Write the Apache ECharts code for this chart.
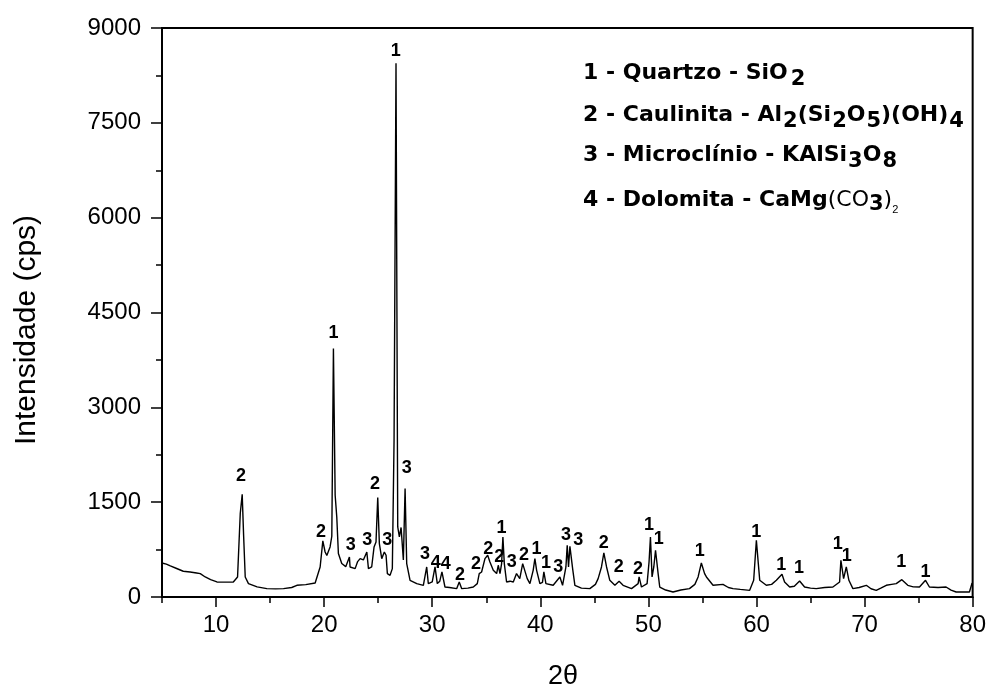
<!DOCTYPE html>
<html lang="pt">
<head>
    <meta charset="UTF-8">
    <title>Difratograma</title>
    <script src="https://cdn.jsdelivr.net/npm/echarts/dist/echarts.min.js"></script>
    <style>
        body { margin: 0; padding: 0; background: #fff; }
        #chart { width: 989px; height: 689px; }
    </style>
</head>
<body>
<div id="chart"></div>
<script>
    var twoTheta = [
        5.0, 5.4, 5.77, 6.3, 6.97, 7.6, 8.2, 8.54, 9.0, 9.5, 10.08, 10.8, 11.6, 11.99, 12.24, 12.42, 12.55, 12.7, 13.0, 13.8,
        14.7, 15.5, 16.24, 17.0, 17.48, 18.3, 19.17, 19.63, 19.88, 20.09, 20.25, 20.55, 20.71, 20.86, 21.02, 21.17, 21.32, 21.63, 22.0, 22.34,
        22.4, 22.87, 23.1, 23.33, 23.63, 23.95, 24.1, 24.4, 24.62, 24.8, 24.96, 25.11, 25.33, 25.57, 25.73, 25.85, 26.1, 26.31, 26.47, 26.65,
        26.81, 26.96, 27.12, 27.33, 27.49, 27.64, 27.95, 28.57, 29.18, 29.49, 29.64, 30.0, 30.26, 30.47, 30.7, 30.9, 31.18, 31.6, 32.26, 32.5,
        32.73, 33.3, 33.8, 34.17, 34.35, 34.57, 34.88, 35.13, 35.34, 35.65, 35.96, 36.11, 36.27, 36.42, 36.54, 36.67, 36.88, 37.2, 37.5, 37.8,
        38.1, 38.37, 38.5, 38.79, 39.04, 39.34, 39.5, 39.66, 39.96, 40.2, 40.33, 40.52, 41.19, 41.81, 42.06, 42.37, 42.49, 42.61, 42.74, 42.83,
        42.99, 43.2, 43.8, 44.58, 45.1, 45.35, 45.66, 45.88, 46.13, 46.43, 46.9, 47.29, 47.66, 48.44, 49.05, 49.14, 49.36, 49.88, 50.06, 50.19,
        50.34, 50.5, 50.66, 50.75, 50.9, 51.05, 51.6, 52.28, 53.0, 53.8, 54.3, 54.6, 54.9, 55.2, 55.37, 55.98, 56.9, 57.4, 57.83, 58.5,
        59.37, 59.74, 59.99, 60.17, 60.3, 60.91, 61.4, 61.84, 62.36, 62.6, 63.07, 63.5, 63.99, 64.45, 65.0, 65.53, 66.3, 67.07, 67.69, 67.81,
        68.06, 68.31, 68.55, 68.92, 69.5, 70.16, 70.6, 71.08, 71.5, 72.01, 72.5, 72.93, 73.45, 74.0, 74.5, 75.08, 75.64, 76.0, 76.8, 77.54,
        78.0, 78.47, 79.2, 79.7, 79.95
    ];
    var intensidade = [
        538, 520, 491, 455, 407, 395, 380, 370, 317, 275, 238, 235, 238, 317, 1320, 1626, 977, 317, 212, 160,
        133, 128, 133, 150, 185, 195, 222, 475, 887, 712, 658, 792, 961, 3930, 1610, 1266, 687, 529, 480, 633,
        475, 449, 560, 607, 586, 712, 449, 475, 792, 871, 1573, 845, 607, 712, 660, 370, 343, 449, 2480, 8443,
        1108, 950, 1100, 586, 1716, 529, 264, 212, 185, 475, 212, 240, 475, 212, 250, 396, 158, 150, 132, 237,
        132, 140, 158, 211, 370, 396, 607, 660, 554, 422, 370, 502, 370, 528, 950, 528, 237, 250, 237, 370,
        290, 528, 554, 290, 211, 422, 607, 422, 211, 230, 396, 211, 185, 317, 185, 475, 818, 475, 802, 792,
        449, 185, 140, 132, 200, 290, 475, 697, 475, 264, 185, 248, 185, 132, 211, 317, 158, 211, 554, 950,
        317, 475, 739, 712, 370, 158, 110, 79, 110, 132, 200, 317, 538, 370, 317, 185, 200, 150, 132, 120,
        105, 264, 898, 528, 264, 185, 200, 264, 359, 237, 158, 170, 253, 158, 140, 132, 150, 158, 237, 580,
        290, 475, 264, 132, 150, 185, 130, 105, 140, 185, 200, 211, 274, 185, 160, 158, 264, 158, 150, 158,
        110, 79, 80, 79, 222
    ];

    // identificação dos picos (fase)
    var picoX = [12.3, 19.7, 20.86, 22.47, 24.0, 24.71, 25.85, 26.63, 27.64, 29.33, 30.32, 31.25, 32.57, 34.05, 35.18, 36.2, 36.42, 37.35, 38.49, 39.66,
        40.52, 41.66, 42.37, 43.5, 45.88, 47.26, 49.05, 50.06, 50.96, 54.75, 59.99, 62.3, 63.93, 67.53, 68.36, 73.39, 75.64];
    var picoY = [1910, 1029, 4170, 818, 908, 1784, 908, 8643, 2042, 687, 538, 515, 343, 518, 766, 633, 1098, 554, 660, 766,
        538, 475, 988, 908, 855, 475, 449, 1135, 924, 728, 1029, 502, 465, 834, 644, 554, 396];
    var picoFase = ['2', '2', '1', '3', '3', '2', '3', '1', '3', '3', '4', '4', '2', '2', '2', '2', '1', '3', '2', '1',
        '1', '3', '3', '3', '2', '2', '2', '1', '1', '1', '1', '1', '1', '1', '1', '1', '1'];

    var xMarcas = [10, 20, 30, 40, 50, 60, 70, 80];
    var xMarcasMenores = [5, 15, 25, 35, 45, 55, 65, 75];

    var chart = echarts.init(document.getElementById('chart'));

    var curva = twoTheta.map(function (x, i) { return [x, intensidade[i]]; });
    var rotulos = picoX.map(function (x, i) { return [x, picoY[i], picoFase[i]]; });

    var fonte = "'Liberation Sans', Arial, sans-serif";
    var fonteLeg = "'DejaVu Sans', sans-serif";

    var option = {
        animation: false,
        backgroundColor: '#fff',
        grid: {
            left: 162, right: 16, top: 28, bottom: 92,
            show: true, borderColor: '#000', borderWidth: 2, backgroundColor: 'transparent'
        },
        xAxis: [
            {
                type: 'value', min: 5, max: 80,
                axisLine: { lineStyle: { color: '#000', width: 2 } },
                axisTick: { customValues: xMarcas, length: 10, lineStyle: { color: '#000', width: 1.5 } },
                axisLabel: { customValues: xMarcas, color: '#000', fontSize: 24, fontFamily: fonte, margin: 16 },
                splitLine: { show: false }
            },
            {
                type: 'value', min: 5, max: 80, position: 'bottom',
                axisLine: { show: false },
                axisTick: { customValues: xMarcasMenores, length: 6, lineStyle: { color: '#000', width: 1.5 } },
                axisLabel: { show: false },
                splitLine: { show: false }
            }
        ],
        yAxis: {
            type: 'value', min: 0, max: 9000, interval: 1500,
            axisLine: { show: true, lineStyle: { color: '#000', width: 2 } },
            axisTick: { show: true, length: 11, lineStyle: { color: '#000', width: 1.5 } },
            minorTick: { show: true, splitNumber: 2, length: 6, lineStyle: { color: '#000', width: 1.5 } },
            axisLabel: {
                color: '#000', fontSize: 24, fontFamily: fonte, margin: 21,
                formatter: function (v) { return String(v); }
            },
            splitLine: { show: false }
        },
        series: [
            {
                type: 'line',
                data: curva,
                showSymbol: false,
                lineStyle: { color: '#000', width: 1.4 },
                z: 3
            },
            {
                type: 'scatter',
                data: rotulos,
                symbolSize: 0,
                itemStyle: { opacity: 1, color: '#000' },
                label: {
                    show: true, position: 'inside', opacity: 1,
                    formatter: function (p) { return p.value[2]; },
                    color: '#000', textBorderWidth: 0,
                    fontSize: 18, fontWeight: 'bold', fontFamily: fonte
                },
                z: 4
            }
        ],
        graphic: [
            {
                type: 'text', x: 27, y: 330, rotation: Math.PI / 2,
                style: {
                    text: 'Intensidade (cps)', font: '30px ' + fonte, fill: '#000',
                    align: 'center', verticalAlign: 'middle'
                }
            },
            {
                type: 'text', x: 563, y: 677,
                style: {
                    text: '2θ', font: '27px ' + fonte, fill: '#000',
                    align: 'center', verticalAlign: 'middle'
                }
            },
            {
                type: 'text', x: 583, y: 62,
                style: {
                    text: '{b|1 - Quartzo - SiO}{s|2}',
                    verticalAlign: 'top',
                    rich: {
                        b: { fontFamily: fonteLeg, fontWeight: 'bold', fontSize: 22, lineHeight: 24, verticalAlign: 'top', color: '#000' },
                        s: { fontFamily: fonteLeg, fontWeight: 'bold', fontSize: 21, lineHeight: 24, verticalAlign: 'top', padding: [7, 0, 0, 3], color: '#000' }
                    }
                }
            },
            {
                type: 'text', x: 583, y: 104,
                style: {
                    text: '{b|2 - Caulinita - Al}{s|2}{b|(Si}{s|2}{b|O}{s|5}{b|)(OH)}{s|4}',
                    verticalAlign: 'top',
                    rich: {
                        b: { fontFamily: fonteLeg, fontWeight: 'bold', fontSize: 22, lineHeight: 24, verticalAlign: 'top', color: '#000' },
                        s: { fontFamily: fonteLeg, fontWeight: 'bold', fontSize: 21, lineHeight: 24, verticalAlign: 'top', padding: [7, 0, 0, 1], color: '#000' }
                    }
                }
            },
            {
                type: 'text', x: 583, y: 144,
                style: {
                    text: '{b|3 - Microclínio - KAlSi}{s|3}{b|O}{s|8}',
                    verticalAlign: 'top',
                    rich: {
                        b: { fontFamily: fonteLeg, fontWeight: 'bold', fontSize: 22, lineHeight: 24, verticalAlign: 'top', color: '#000' },
                        s: { fontFamily: fonteLeg, fontWeight: 'bold', fontSize: 21, lineHeight: 24, verticalAlign: 'top', padding: [7, 0, 0, 1], color: '#000' }
                    }
                }
            },
            {
                type: 'text', x: 583, y: 189,
                style: {
                    text: '{b|4 - Dolomita - CaMg}{n|(CO}{s|3}{n|)}{t|2}',
                    verticalAlign: 'top',
                    rich: {
                        b: { fontFamily: fonteLeg, fontWeight: 'bold', fontSize: 22, lineHeight: 24, verticalAlign: 'top', color: '#000' },
                        n: { fontFamily: fonteLeg, fontSize: 22, lineHeight: 24, verticalAlign: 'top', color: '#000' },
                        s: { fontFamily: fonteLeg, fontWeight: 'bold', fontSize: 21, lineHeight: 24, verticalAlign: 'top', padding: [5, 0, 0, 0], color: '#000' },
                        t: { fontFamily: fonte, fontSize: 11, lineHeight: 12, verticalAlign: 'top', padding: [15, 0, 0, 0], color: '#000' }
                    }
                }
            }
        ]
    };

    chart.setOption(option);
</script>
</body>
</html>
